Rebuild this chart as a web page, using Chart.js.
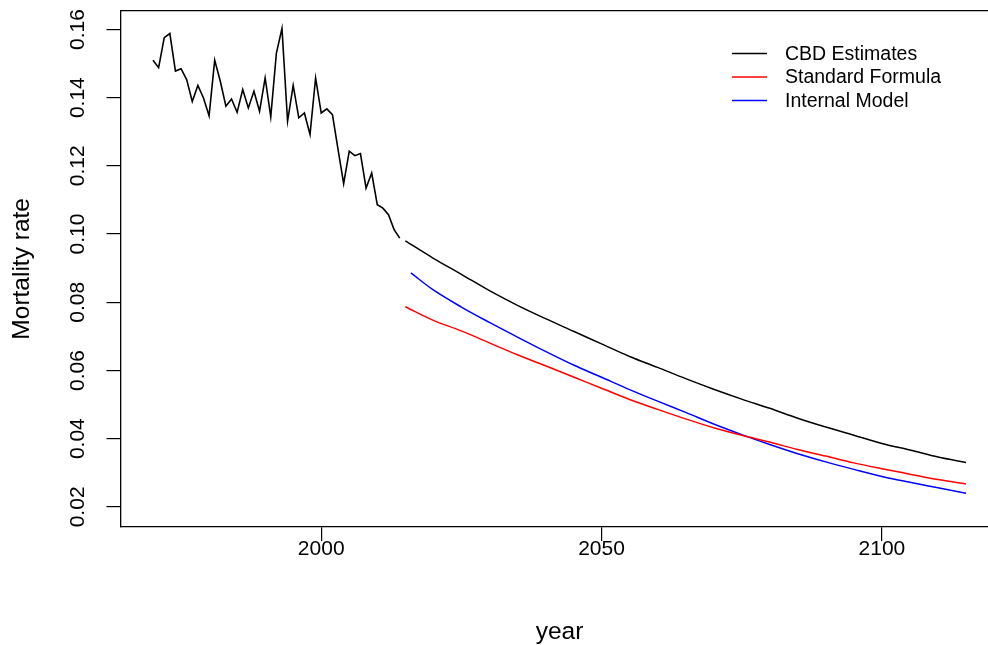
<!DOCTYPE html>
<html><head><meta charset="utf-8">
<script src="https://cdn.jsdelivr.net/npm/chart.js@4/dist/chart.umd.min.js"></script>
<style>html,body{margin:0;padding:0;overflow:hidden;background:#fff}#wrap{width:988px;height:645px;overflow:hidden;position:relative}canvas{display:block}</style>
</head><body><div id="wrap"><canvas id="c" width="1000" height="645"></canvas></div>
<script>
// ---- data ----
const histYears = [1970,1971,1972,1973,1974,1975,1976,1977,1978,1979,1980,1981,1982,1983,1984,1985,1986,1987,1988,1989,1990,1991,1992,1993,1994,1995,1996,1997,1998,1999,2000,2001,2002,2003,2004,2005,2006,2007,2008,2009,2010,2011,2012,2013,2014];
const histRate = [0.1510,0.1488,0.1576,0.1588,0.1478,0.1485,0.1453,0.1389,0.1436,0.1399,0.1347,0.1510,0.1448,0.1375,0.1396,0.1357,0.1424,0.1370,0.1419,0.1360,0.1458,0.1344,0.1530,0.1603,0.1331,0.1436,0.1341,0.1355,0.1292,0.1458,0.1355,0.1367,0.1350,0.1248,0.1148,0.1243,0.1230,0.1236,0.1135,0.1179,0.1086,0.1076,0.1057,0.1013,0.0988];
const projYears = [2015,2020,2025,2030,2035,2040,2045,2050,2055,2060,2065,2070,2075,2080,2085,2090,2095,2100,2105,2110,2115];
const cbdRate = [0.0980,0.0929,0.0882,0.0834,0.0791,0.0752,0.0715,0.0678,0.0641,0.0609,0.0576,0.0545,0.0516,0.0489,0.0460,0.0434,0.0410,0.0386,0.0367,0.0346,0.0330];
const sfRate  = [0.0787,0.0747,0.0716,0.0681,0.0646,0.0614,0.0581,0.0548,0.0515,0.0486,0.0458,0.0432,0.0410,0.0390,0.0368,0.0349,0.0329,0.0312,0.0296,0.0280,0.0267];
const imYears = [2016,2020,2025,2030,2035,2040,2045,2050,2055,2060,2065,2070,2075,2080,2085,2090,2095,2100,2105,2110,2115];
const imRate  = [0.0886,0.0836,0.0786,0.0741,0.0698,0.0656,0.0616,0.0580,0.0544,0.0510,0.0477,0.0443,0.0412,0.0383,0.0356,0.0332,0.0310,0.0289,0.0272,0.0256,0.0240];
const xTicks = [2000,2050,2100];
const yTicks = [0.02,0.04,0.06,0.08,0.10,0.12,0.14,0.16];
const seriesNames = ['CBD Estimates','Standard Formula','Internal Model'];
const seriesColors = ['#000000','#ff0000','#0000ff'];

const FONT = 'Liberation Sans, Arial, sans-serif';
const FS_LEG = 19.5, FS_TICK = 21, FS_TITLE = 24.5;
const pts = (xs, ys) => xs.map((x, i) => ({x: x, y: ys[i]}));

const boxAndText = {
  id: 'boxAndText',
  afterDraw(chart) {
    const ctx = chart.ctx, a = chart.chartArea;
    ctx.save();
    ctx.strokeStyle = '#000'; ctx.lineWidth = 1.3;
    ctx.beginPath(); ctx.moveTo(a.left, a.top); ctx.lineTo(a.right, a.top); ctx.stroke();
    // rotated y tick labels (R style, las=0)
    const ys = chart.scales.y;
    ctx.fillStyle = '#000';
    ctx.font = FS_TICK + 'px ' + FONT;
    ctx.textAlign = 'center'; ctx.textBaseline = 'middle';
    ys.ticks.forEach((t, i) => {
      const py = ys.getPixelForTick(i);
      ctx.save(); ctx.translate(78, py); ctx.rotate(-Math.PI / 2);
      ctx.fillText(t.label, 0, 0); ctx.restore();
    });
    // legend (no box)
    const rows = [53.5, 77, 100.5];
    ctx.font = FS_LEG + 'px ' + FONT;
    ctx.textAlign = 'left';
    [1, 2, 3].forEach((di, k) => {
      const ds = chart.data.datasets[di];
      ctx.strokeStyle = ds.borderColor; ctx.lineWidth = 1.5;
      ctx.beginPath(); ctx.moveTo(732, rows[k]); ctx.lineTo(767, rows[k]); ctx.stroke();
      ctx.fillStyle = '#000';
      ctx.fillText(ds.label, 785, rows[k] + 1);
    });
    ctx.restore();
  }
};

new Chart(document.getElementById('c'), {
  type: 'line',
  data: {
    datasets: [
      {label: '', data: pts(histYears, histRate), borderColor: seriesColors[0], borderWidth: 1.6, pointRadius: 0, tension: 0},
      {label: seriesNames[0], data: pts(projYears, cbdRate), borderColor: seriesColors[0], borderWidth: 1.5, pointRadius: 0, cubicInterpolationMode: 'monotone'},
      {label: seriesNames[1], data: pts(projYears, sfRate), borderColor: seriesColors[1], borderWidth: 1.5, pointRadius: 0, cubicInterpolationMode: 'monotone'},
      {label: seriesNames[2], data: pts(imYears, imRate), borderColor: seriesColors[2], borderWidth: 1.5, pointRadius: 0, cubicInterpolationMode: 'monotone'}
    ]
  },
  options: {
    responsive: false, animation: false, devicePixelRatio: 1,
    layout: {padding: {top: 10.7, right: 1.5, left: 0, bottom: 0}},
    plugins: {legend: {display: false}, tooltip: {enabled: false}},
    scales: {
      x: {
        type: 'linear', min: 1964.2, max: 2120.8,
        afterBuildTicks: s => { s.ticks = xTicks.map(v => ({value: v})); },
        afterFit: s => { s.height = 118; },
        grid: {drawOnChartArea: false, drawTicks: true, tickLength: 14, color: '#000', tickColor: '#000', lineWidth: 1.2},
        border: {display: true, color: '#000', width: 1.3},
        ticks: {color: '#000', font: {family: FONT, size: FS_TICK}, padding: -4.5, maxRotation: 0, callback: v => String(v)},
        title: {display: true, text: 'year', color: '#000', font: {family: FONT, size: FS_TITLE, lineHeight: 1}, padding: {top: 0, bottom: 0.7}}
      },
      y: {
        type: 'linear', min: 0.0141, max: 0.1655,
        afterBuildTicks: s => { s.ticks = yTicks.map(v => ({value: v})); },
        afterFit: s => { s.width = 120.5; },
        grid: {drawOnChartArea: false, drawTicks: true, tickLength: 14, color: '#000', tickColor: '#000', lineWidth: 1.2},
        border: {display: true, color: '#000', width: 1.3},
        ticks: {display: false, callback: v => v.toFixed(2)},
        title: {display: true, text: 'Mortality rate', color: '#000', font: {family: FONT, size: FS_TITLE, lineHeight: 1}, padding: {top: 10, bottom: 0}}
      }
    }
  },
  plugins: [boxAndText]
});
</script>
</body></html>
